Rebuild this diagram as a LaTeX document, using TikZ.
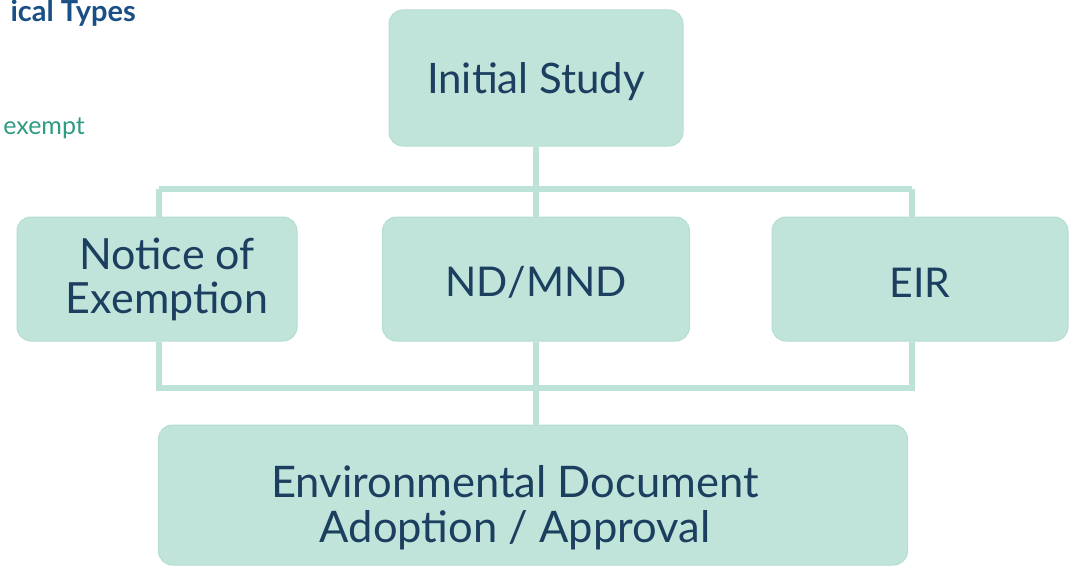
\documentclass[tikz,border=0pt]{standalone}
\usepackage{fontspec}
\setmainfont{Lato}
\usetikzlibrary{positioning}
\definecolor{boxfill}{HTML}{C0E4DA}
\definecolor{boxline}{HTML}{B5DDD2}
\definecolor{linkcol}{HTML}{BDE3D8}
\definecolor{textcol}{HTML}{1C3F5F}
\definecolor{titlecol}{HTML}{1A4F85}
\definecolor{notecol}{HTML}{2F9B82}

\begin{document}
\begin{tikzpicture}[x=1pt,y=-1pt,
  stepbox/.style={draw=boxline, line width=1pt, fill=boxfill,
    rounded corners=14pt, text=textcol, align=center, inner sep=0pt,
    font=\fontsize{42}{45}\selectfont},
  link/.style={draw=linkcol, line width=6pt}]
\useasboundingbox (0,0) rectangle (1070,567);

% cut-off heading at the top left
\node[anchor=base east, inner sep=0pt, text=titlecol, font=\fontsize{29}{32}\selectfont\bfseries] (head) at (136,22) {ical Types};
\node[anchor=base east, inner sep=0pt, text=notecol, font=\fontsize{25}{28}\selectfont] (note) at (85,135) {exempt};

% bus corners
\coordinate (busTL) at (159,189);
\coordinate (busTR) at (912,189);
\coordinate (busBL) at (159,388);
\coordinate (busBR) at (912,388);

\node[stepbox, minimum width=294pt, minimum height=136pt] (init) at (536,78) {\rule{0pt}{39pt}Initial Study};
\node[stepbox, minimum width=280pt, minimum height=124pt, font=\fontsize{43}{44}\selectfont] (noe) at (157,279) {\hspace*{20pt}Notice of\\\hspace*{20pt}Exemption};
\node[stepbox, minimum width=307pt, minimum height=124pt, font=\fontsize{41}{44}\selectfont] (nd) at (536,279) {\rule{0pt}{36pt}ND/MND};
\node[stepbox, minimum width=296pt, minimum height=124pt, font=\fontsize{41}{44}\selectfont] (eir) at (920,279) {\rule{0pt}{36pt}EIR};
\node[stepbox, minimum width=749pt, minimum height=140pt, font=\fontsize{43.5}{45}\selectfont] (adopt) at (533,495)
  {\rule{0pt}{58pt}Environmental Document\hspace*{36pt}\\Adoption / Approval\hspace*{36pt}};

\draw[link] (init.south) -- (init.south |- busTL);
\draw[link] (busTL) -- (busTR);
\draw[link] (busTL) -- (busTL |- noe.north);
\draw[link] (busTR) -- (busTR |- eir.north);
\draw[link] (init.south |- busTL) -- (nd.north);
\draw[link] (busBL |- noe.south) -- (busBL) -- (busBR) -- (busBR |- eir.south);
\draw[link] (nd.south) -- (nd.south |- adopt.north);
\end{tikzpicture}
\end{document}
